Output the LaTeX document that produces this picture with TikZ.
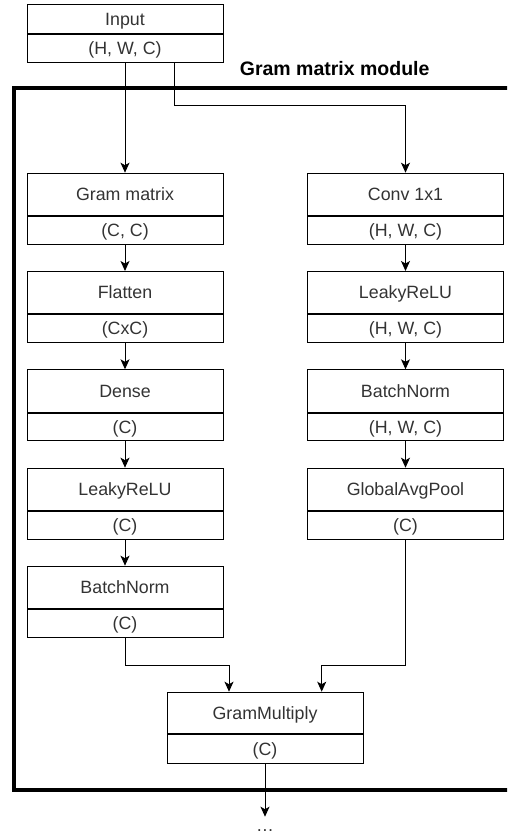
\documentclass[tikz,border=0pt]{standalone}
\usepackage{fontspec}
\setmainfont{Liberation Sans}
\usetikzlibrary{arrows.meta,calc}
\definecolor{txt}{RGB}{51,51,51}
\begin{document}
\begin{tikzpicture}[x=1pt,y=-1pt,
  toppart/.style={draw, line width=1pt, minimum width=196pt, minimum height=42.3pt, inner sep=0pt,
    font=\fontsize{17.8}{21}\selectfont, text=txt, text height=16pt, text depth=3.8pt, anchor=north},
  botpart/.style={toppart, minimum height=27.7pt},
  arr/.style={-{Stealth[length=10pt,width=9pt,inset=2.5pt]}, line width=1pt},
  frame/.style={line width=4pt}]
\useasboundingbox (0,0) rectangle (507,836);
\clip (0,0) rectangle (507,836);
% frame
\draw[frame] (14,88) rectangle (540,790);
\node[font=\bfseries\fontsize{19.5}{23}\selectfont, text height=17.6pt, text depth=4.1pt, inner sep=0pt] (lbl) at (334.7,68.3) {Gram matrix module};
% input
\node[toppart, minimum height=28.4pt] (in) at (125,4.3) {Input};
\node[botpart, minimum height=28pt] (ins) at (in.south) {(H, W, C)};
% left column
\node[toppart] (gm) at (125,172.7) {Gram matrix};
\node[botpart] (gms) at (gm.south) {(C, C)};
\node[toppart] (fl) at (125,271) {Flatten};
\node[botpart] (fls) at (fl.south) {(CxC)};
\node[toppart] (de) at (125,369.3) {Dense};
\node[botpart] (des) at (de.south) {(C)};
\node[toppart] (lrl) at (125,467.7) {LeakyReLU};
\node[botpart] (lrls) at (lrl.south) {(C)};
\node[toppart] (bnl) at (125,565.7) {BatchNorm};
\node[botpart] (bnls) at (bnl.south) {(C)};
% right column
\node[toppart] (cv) at (405.5,172.7) {Conv 1x1};
\node[botpart] (cvs) at (cv.south) {(H, W, C)};
\node[toppart] (lrr) at (405.5,271) {LeakyReLU};
\node[botpart] (lrrs) at (lrr.south) {(H, W, C)};
\node[toppart] (bnr) at (405.5,369.3) {BatchNorm};
\node[botpart] (bnrs) at (bnr.south) {(H, W, C)};
\node[toppart] (gap) at (405.5,467.7) {GlobalAvgPool};
\node[botpart] (gaps) at (gap.south) {(C)};
% merge
\node[toppart, minimum height=41.6pt] (gmul) at (265,691.7) {GramMultiply};
\node[botpart, minimum height=28.4pt] (gmuls) at (gmul.south) {(C)};
\coordinate (out) at (265,816.7);
\node[font=\fontsize{17.8}{21}\selectfont, text=txt, inner sep=0pt] (dots) at (265,831) {…};
% connectors
\draw[arr] (ins.south) -- (gm.north);
\draw[arr] ([xshift=49pt]ins.south) -- ++(0,42.3) -| (cv.north);
\draw[arr] (gms.south) -- (fl.north);
\draw[arr] (fls.south) -- (de.north);
\draw[arr] (des.south) -- (lrl.north);
\draw[arr] (lrls.south) -- (bnl.north);
\draw[arr] (cvs.south) -- (lrr.north);
\draw[arr] (lrrs.south) -- (bnr.north);
\draw[arr] (bnrs.south) -- (gap.north);
\draw[arr] (bnls.south) -- ++(0,27.3) -| ([xshift=-36pt]gmul.north);
\draw[arr] (gaps.south) -- ++(0,126) -| ([xshift=56.7pt]gmul.north);
\draw[arr] (gmuls.south) -- (out);
\end{tikzpicture}
\end{document}
